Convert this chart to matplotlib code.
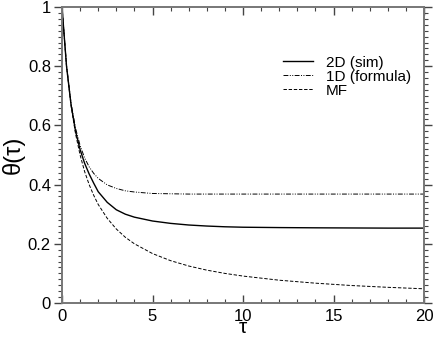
import numpy as np
import matplotlib
matplotlib.use('Agg')
import matplotlib.pyplot as plt
from matplotlib.ticker import MultipleLocator

plt.rcParams['font.family'] = ['Liberation Sans', 'DejaVu Sans']

# values
tau = [0, 0.25, 0.5, 0.75, 1, 1.25, 1.5, 1.75, 2, 2.5, 3, 3.5, 4, 5, 6, 7, 8, 9, 10, 12, 14, 16, 18, 20]
theta_2d = [1.0, 0.800, 0.670, 0.580, 0.518, 0.472, 0.436, 0.405, 0.376, 0.340, 0.315, 0.300, 0.290,
            0.277, 0.269, 0.2635, 0.260, 0.2575, 0.256, 0.2548, 0.254, 0.2535, 0.253, 0.253]
theta_1d = [1.0, 0.802, 0.675, 0.590, 0.532, 0.490, 0.460, 0.438, 0.421, 0.399, 0.387, 0.379, 0.375,
            0.370, 0.369, 0.368, 0.368, 0.368, 0.368, 0.368, 0.368, 0.368, 0.368, 0.368]
theta_mf = [1.0, 0.800, 0.667, 0.571, 0.500, 0.444, 0.400, 0.364, 0.333, 0.286, 0.250, 0.222, 0.200,
            0.167, 0.143, 0.125, 0.111, 0.100, 0.091, 0.077, 0.067, 0.059, 0.053, 0.048]

fig = plt.figure(figsize=(4.34, 3.37), dpi=100)
ax = fig.add_axes([62 / 434, 34 / 337, 362 / 434, 296 / 337])

ax.plot(tau, theta_2d, color='black', lw=1.0, label='2D (sim)')
ax.plot(tau, theta_1d, color='black', lw=0.7, dashes=(5, 1.5, 1, 1.5, 1, 1.5), label='1D (formula)')
ax.plot(tau, theta_mf, color='black', lw=0.7, dashes=(3.5, 1.8), label='MF')

ax.set_xlim(0, 20)
ax.set_ylim(0, 1)
ax.xaxis.set_major_locator(MultipleLocator(5))
ax.xaxis.set_minor_locator(MultipleLocator(1))
ax.yaxis.set_minor_locator(MultipleLocator(0.02))
ax.set_yticks([0, 0.2, 0.4, 0.6, 0.8, 1.0])
ax.set_yticklabels(['0', '0.2', '0.4', '0.6', '0.8', '1'])

for s in ax.spines.values():
    s.set_color('#777777')
    s.set_linewidth(1.4)

ax.tick_params(which='both', top=True, right=True, color='#444444', labelsize=12)
ax.tick_params(axis='x', which='both', direction='in', pad=4)
ax.tick_params(axis='y', which='both', direction='out', pad=2)
ax.tick_params(which='major', length=6, width=1)
ax.tick_params(which='minor', length=3, width=0.8)

ax.set_xlabel('τ', fontsize=15, va='baseline')
ax.xaxis.set_label_coords(0.5, -0.1)
ax.set_ylabel('θ(τ)', fontsize=17, labelpad=2)

ax.legend(loc='upper left', bbox_to_anchor=(0.61, 0.835), frameon=False, fontsize=11,
          handlelength=2.0, labelspacing=0.0, handletextpad=0.8, borderpad=0, borderaxespad=0)

fig.savefig('out.png', dpi=100)
